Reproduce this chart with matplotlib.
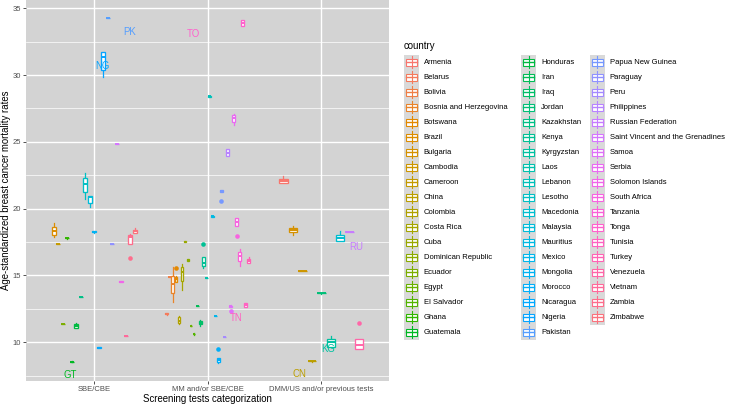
import numpy as np
import matplotlib
matplotlib.use('Agg')
import matplotlib.pyplot as plt
from matplotlib.patches import Rectangle

plt.rcParams['font.family'] = ['Liberation Sans', 'DejaVu Sans']

countries = ['Armenia', 'Belarus', 'Bolivia', 'Bosnia and Herzegovina', 'Botswana', 'Brazil',
             'Bulgaria', 'Cambodia', 'Cameroon', 'China', 'Colombia', 'Costa Rica', 'Cuba',
             'Dominican Republic', 'Ecuador', 'Egypt', 'El Salvador', 'Ghana', 'Guatemala',
             'Honduras', 'Iran', 'Iraq', 'Jordan', 'Kazakhstan', 'Kenya', 'Kyrgyzstan', 'Laos',
             'Lebanon', 'Lesotho', 'Macedonia', 'Malaysia', 'Mauritius', 'Mexico', 'Mongolia',
             'Morocco', 'Nicaragua', 'Nigeria', 'Pakistan', 'Papua New Guinea', 'Paraguay', 'Peru',
             'Philippines', 'Russian Federation', 'Saint Vincent and the Grenadines', 'Samoa',
             'Serbia', 'Solomon Islands', 'South Africa', 'Tanzania', 'Tonga', 'Tunisia', 'Turkey',
             'Venezuela', 'Vietnam', 'Zambia', 'Zimbabwe']

categories = ['SBE/CBE', 'MM and/or SBE/CBE', 'DMM/US and/or previous tests']

# (whisker low, q1, median, q3, whisker high) per country
sbe_names = ['Brazil', 'Cameroon', 'Ecuador', 'Ghana', 'Guatemala', 'Honduras', 'Kazakhstan',
             'Lesotho', 'Malaysia', 'Mongolia', 'Nicaragua', 'Nigeria', 'Pakistan', 'Paraguay',
             'Saint Vincent and the Grenadines', 'Solomon Islands', 'Vietnam', 'Zambia', 'Zimbabwe']
sbe_stats = [(17.86, 18.03, 18.35, 18.65, 18.9), (17.38, 17.38, 17.38, 17.38, 17.38),
             (11.39, 11.39, 11.39, 11.39, 11.39), (17.76, 17.78, 17.8, 17.82, 17.84),
             (8.5, 8.51, 8.53, 8.55, 8.56), (11.08, 11.1, 11.2, 11.35, 11.44),
             (13.41, 13.41, 13.41, 13.41, 13.41), (20.73, 21.27, 21.85, 22.27, 22.7),
             (20.15, 20.45, 20.85, 20.95, 20.95), (18.2, 18.25, 18.28, 18.31, 18.36),
             (9.57, 9.58, 9.6, 9.62, 9.63), (29.88, 30.35, 31.38, 31.75, 31.75),
             (34.25, 34.25, 34.25, 34.25, 34.25), (17.33, 17.33, 17.33, 17.33, 17.33),
             (24.85, 24.85, 24.85, 24.85, 24.85), (14.5, 14.52, 14.54, 14.57, 14.6),
             (10.47, 10.47, 10.47, 10.47, 10.47), (17.33, 17.33, 17.9, 18.03, 18.1),
             (18.16, 18.16, 18.3, 18.4, 18.53)]
sbe_out = {'Zambia': [16.29]}

mm_names = ['Belarus', 'Bolivia', 'Bosnia and Herzegovina', 'Botswana', 'Colombia', 'Costa Rica',
            'Cuba', 'Dominican Republic', 'Egypt', 'El Salvador', 'Iran', 'Iraq', 'Kenya', 'Laos',
            'Lebanon', 'Mauritius', 'Mexico', 'Morocco', 'Papua New Guinea', 'Peru', 'Philippines',
            'Samoa', 'Serbia', 'South Africa', 'Tanzania', 'Tonga', 'Tunisia', 'Turkey']
mm_stats = [(12.05, 12.08, 12.12, 12.16, 12.2), (14.9, 14.9, 14.9, 14.9, 14.9),
            (13.04, 13.67, 14.34, 14.97, 15.6), (14.54, 14.54, 14.7, 14.87, 14.95),
            (11.4, 11.45, 11.6, 11.9, 11.95), (13.9, 14.6, 15.24, 15.6, 15.86),
            (17.48, 17.5, 17.53, 17.56, 17.58), (16.1, 16.12, 16.16, 16.2, 16.22),
            (11.18, 11.2, 11.22, 11.24, 11.26), (10.58, 10.6, 10.62, 10.64, 10.66),
            (12.74, 12.74, 12.74, 12.74, 12.74), (11.25, 11.35, 11.45, 11.6, 11.7),
            (15.53, 15.7, 15.95, 16.4, 16.4), (14.81, 14.81, 14.81, 14.81, 14.81),
            (28.35, 28.38, 28.41, 28.44, 28.47), (19.4, 19.41, 19.43, 19.45, 19.46),
            (11.99, 11.99, 11.99, 11.99, 11.99), (8.47, 8.5, 8.65, 8.8, 8.8),
            (21.28, 21.28, 21.33, 21.4, 21.4), (10.4, 10.4, 10.4, 10.4, 10.4),
            (23.97, 23.97, 24.2, 24.47, 24.47), (12.62, 12.65, 12.69, 12.73, 12.76),
            (26.3, 26.5, 26.75, 27.0, 27.1), (18.73, 18.73, 19.0, 19.28, 19.28),
            (15.71, 16.1, 16.48, 16.78, 16.96), (33.7, 33.7, 33.9, 34.12, 34.12),
            (12.62, 12.62, 12.77, 12.92, 12.92), (15.9, 15.9, 16.1, 16.23, 16.36)]
mm_out = {'Botswana': [15.56], 'Kenya': [17.38], 'Morocco': [9.52],
          'Papua New Guinea': [20.58], 'Samoa': [12.32], 'South Africa': [17.96]}

dmm_names = ['Armenia', 'Bulgaria', 'Cambodia', 'China', 'Jordan', 'Kyrgyzstan', 'Macedonia',
             'Russian Federation', 'Venezuela']
dmm_stats = [(21.9, 21.9, 22.05, 22.2, 22.45), (18.0, 18.26, 18.4, 18.55, 18.7),
             (15.36, 15.36, 15.36, 15.36, 15.36), (8.55, 8.56, 8.58, 8.6, 8.61),
             (13.63, 13.65, 13.67, 13.7, 13.72), (9.67, 9.67, 10.0, 10.25, 10.5),
             (17.6, 17.6, 17.8, 18.03, 18.35), (18.23, 18.23, 18.23, 18.23, 18.23),
             (9.5, 9.5, 9.8, 10.25, 10.25)]
dmm_out = {'Venezuela': [11.47]}

# country code labels
lab_text = ['GT', 'NG', 'PK', 'TO', 'TN', 'CN', 'KG', 'RU']
lab_country = ['Guatemala', 'Nigeria', 'Pakistan', 'Tonga', 'Tunisia', 'China', 'Kyrgyzstan',
               'Russian Federation']
lab_x = [0.786, 1.068, 1.308, 1.872, 2.247, 2.81, 3.063, 3.308]
lab_y = [7.55, 30.68, 33.26, 33.05, 11.8, 7.63, 9.47, 17.16]


def hcl(h, c=100, l=65):
    # ggplot2 hue palette colour (polar LUV -> sRGB)
    hr = np.deg2rad(h)
    u, v = c * np.cos(hr), c * np.sin(hr)
    Y = ((l + 16) / 116) ** 3
    xn, yn, zn = 0.95047, 1.0, 1.08883
    un = 4 * xn / (xn + 15 * yn + 3 * zn)
    vn = 9 * yn / (xn + 15 * yn + 3 * zn)
    up, vp = u / (13 * l) + un, v / (13 * l) + vn
    X = Y * 9 * up / (4 * vp)
    Z = Y * (12 - 3 * up - 20 * vp) / (4 * vp)
    M = np.array([[3.2404542, -1.5371385, -0.4985314],
                  [-0.9692660, 1.8760108, 0.0415560],
                  [0.0556434, -0.2040259, 1.0572252]])
    rgb = M @ np.array([X, Y, Z])
    rgb = np.where(rgb <= 0.0031308, 12.92 * rgb, 1.055 * np.abs(rgb) ** (1 / 2.4) - 0.055)
    return tuple(np.clip(rgb, 0, 1))


n_c = len(countries)
col = {name: hcl(15 + 360 * i / n_c) for i, name in enumerate(countries)}

fig = plt.figure(figsize=(7.43, 4.05), dpi=100)
ax = fig.add_axes([26.2 / 743, 1 - 381 / 405, (389.4 - 26.2) / 743, 381 / 405])


def draw_group(pos, names, stats, outliers):
    n = len(names)
    slot = 0.75 / n
    xs = pos + (np.arange(n) - (n - 1) / 2) * slot
    bs = [dict(whislo=s[0], q1=s[1], med=s[2], q3=s[3], whishi=s[4],
               fliers=outliers.get(nm, [])) for nm, s in zip(names, stats)]
    art = ax.bxp(bs, positions=xs, widths=slot * 0.9, patch_artist=True,
                 showcaps=False, manage_ticks=False)
    for i, nm in enumerate(names):
        c = col[nm]
        art['boxes'][i].set(facecolor='white', edgecolor=c, linewidth=0.95, zorder=3)
        art['medians'][i].set(color=c, linewidth=1.4, zorder=4)
        for w in art['whiskers'][2 * i:2 * i + 2]:
            w.set(color=c, linewidth=0.9, zorder=2)
        art['fliers'][i].set(marker='o', markerfacecolor=c, markeredgecolor='none',
                             markersize=3.3, zorder=3)


draw_group(1, sbe_names, sbe_stats, sbe_out)
draw_group(2, mm_names, mm_stats, mm_out)
draw_group(3, dmm_names, dmm_stats, dmm_out)

for t, cn, x, y in zip(lab_text, lab_country, lab_x, lab_y):
    ax.text(x, y, t, color=col[cn], fontsize=6.9, ha='center', va='center', zorder=5)

ax.set_xlim(0.4, 3.6)
ax.set_ylim(7.1, 35.62)
ax.set_facecolor('#D3D3D3')
for s in ax.spines.values():
    s.set_visible(False)
ax.set_xticks([1, 2, 3])
ax.set_xticklabels(categories)
ax.set_yticks([10, 15, 20, 25, 30, 35])
ax.set_yticks(np.arange(7.5, 35, 5), minor=True)
ax.tick_params(which='major', length=2.4, width=0.6, color='#333333', labelsize=5.5,
               labelcolor='#4D4D4D', pad=1.5)
ax.tick_params(which='minor', length=0)
ax.grid(which='major', color='white', linewidth=1.0)
ax.grid(which='minor', axis='y', color='white', linewidth=0.5)
ax.set_axisbelow(True)

fig.text(207.8 / 743, 1 - 399 / 405, 'Screening tests categorization', fontsize=6.9,
         ha='center', va='center')
fig.text(6.5 / 743, 1 - 190.5 / 405, 'Age-standardized breast cancer mortality rates',
         fontsize=6.9, rotation=90, ha='center', va='center')

# legend drawn in pixel coordinates
lg = fig.add_axes([0, 0, 1, 1])
lg.set_xlim(0, 743)
lg.set_ylim(405, 0)
lg.axis('off')
lg.patch.set_alpha(0)
lg.text(404, 45.7, 'country', fontsize=6.9, ha='left', va='center')
key_left = [404, 521.2, 589.8]
per_col = 19
for i, nm in enumerate(countries):
    cidx, r = divmod(i, per_col)
    xl = key_left[cidx]
    yc = 62.3 + 15 * r
    c = col[nm]
    lg.add_patch(Rectangle((xl, yc - 7.5), 15, 15, facecolor='#D9D9D9', edgecolor='none'))
    lg.plot([xl + 7.5, xl + 7.5], [yc - 6, yc + 6], color=c, lw=0.8)
    lg.add_patch(Rectangle((xl + 1.9, yc - 3.75), 11.2, 7.5, facecolor='white', edgecolor=c, lw=0.8))
    lg.plot([xl + 1.9, xl + 13.1], [yc, yc], color=c, lw=1.0)
    lg.text(xl + 19.7, yc, nm, fontsize=5.5, ha='left', va='center')

fig.savefig('out.png', dpi=100)
